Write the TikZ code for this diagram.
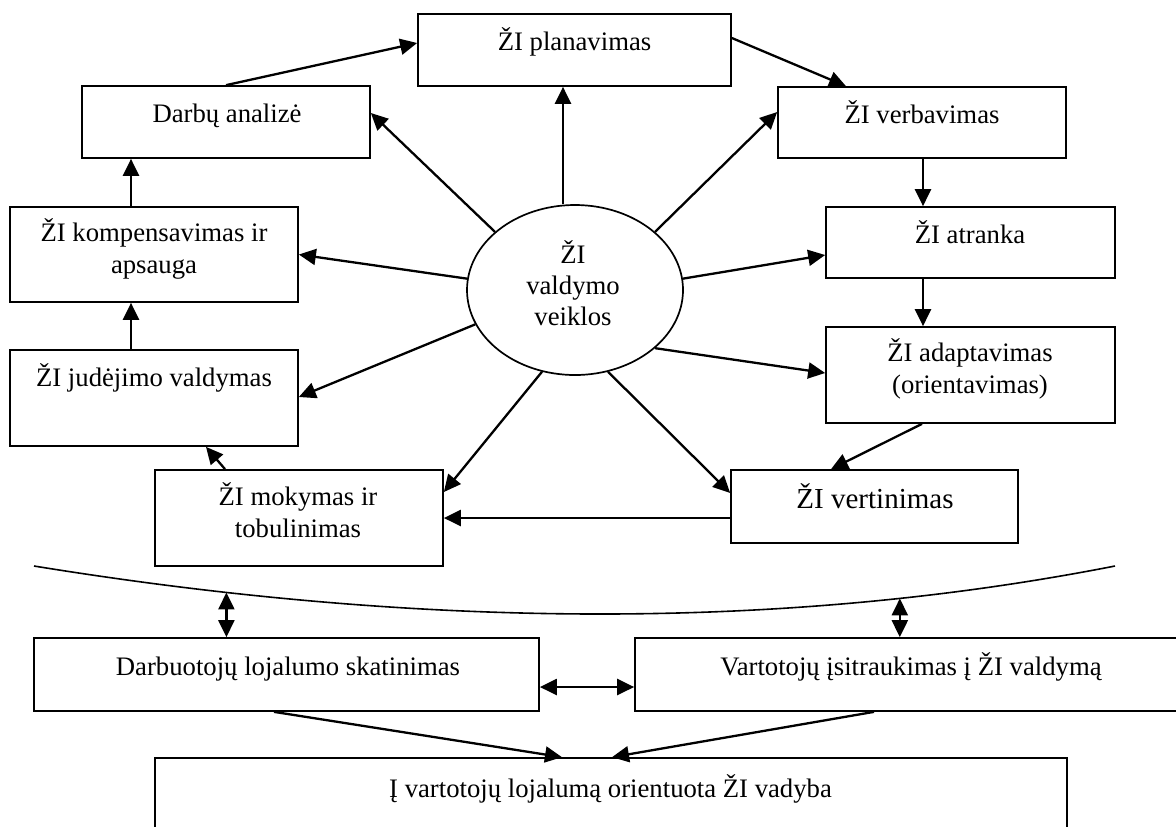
\documentclass[tikz,border=0pt]{standalone}
\usepackage{fontspec}
\setmainfont{Liberation Serif}
\usetikzlibrary{arrows.meta,shapes.geometric,calc}
\begin{document}
\begin{tikzpicture}[x=0.5pt,y=-0.5pt,
  box/.style={draw, line width=0.85pt, inner sep=0pt, rectangle},
  lbl/.style={anchor=base, inner sep=0pt, font=\fontsize{13.35}{16}\selectfont},
  biglbl/.style={anchor=base, inner sep=0pt, font=\fontsize{14.5}{17}\selectfont},
  arr/.style={line width=1.15pt, -{Triangle[length=8.5pt,width=8pt]}},
  darr/.style={line width=1.15pt, {Triangle[length=8.5pt,width=8pt]}-{Triangle[length=8.5pt,width=8pt]}}]
\useasboundingbox (0,0) rectangle (1176,826);
\clip (0,0) rectangle (1176,826);

% boxes
\node[box, minimum width=156.5pt, minimum height=36pt] (plan) at (574.5,50) {};
\node[box, minimum width=144pt, minimum height=36pt] (darb) at (226,122) {};
\node[box, minimum width=144pt, minimum height=35.5pt] (verb) at (922,122.5) {};
\node[box, minimum width=144.5pt, minimum height=35.5pt] (atr) at (970.5,242.5) {};
\node[box, minimum width=144.5pt, minimum height=48pt] (adapt) at (970.5,375) {};
\node[box, minimum width=144pt, minimum height=47.5pt] (komp) at (154,254.5) {};
\node[box, minimum width=144pt, minimum height=48pt] (jud) at (154,398) {};
\node[box, minimum width=144pt, minimum height=48pt] (mok) at (299,518) {};
\node[box, minimum width=143.5pt, minimum height=36.5pt] (vert) at (874.5,506.5) {};
\node[box, minimum width=252.5pt, minimum height=36.5pt] (darbuot) at (286.5,674.5) {};
\node[box, minimum width=282.5pt, minimum height=36.5pt] (vart) at (917.5,674.5) {};
\node[box, minimum width=456pt, minimum height=51pt] (bottom) at (611,809) {};
\node[draw, ellipse, line width=0.85pt, inner sep=0pt, minimum width=108pt, minimum height=85pt] (ell) at (575,290) {};

% labels
\node[lbl] (tplan) at (574.5,50) {ŽI planavimas};
\node[lbl] (tdarb) at (227,122) {Darbų analizė};
\node[lbl] (tverb) at (922,123) {ŽI verbavimas};
\node[lbl] (tatr) at (970,243) {ŽI atranka};
\node[lbl] (tadapt1) at (970,361) {ŽI adaptavimas};
\node[lbl] (tadapt2) at (970,393) {(orientavimas)};
\node[lbl] (tkomp1) at (154,241) {ŽI kompensavimas ir};
\node[lbl] (tkomp2) at (154,273) {apsauga};
\node[lbl] (tjud) at (154,386) {ŽI judėjimo valdymas};
\node[lbl] (tmok1) at (298,505) {ŽI mokymas ir};
\node[lbl] (tmok2) at (298,537) {tobulinimas};
\node[biglbl] (tvert) at (875,508) {ŽI vertinimas};
\node[lbl] (tdarbuot) at (288,675) {Darbuotojų lojalumo skatinimas};
\node[lbl] (tvart) at (911,675) {Vartotojų įsitraukimas į ŽI valdymą};
\node[lbl] (tbottom) at (610.5,797) {Į vartotojų lojalumą orientuota ŽI vadyba};
\node[lbl] (tell1) at (573,263) {ŽI};
\node[lbl] (tell2) at (573,294) {valdymo};
\node[lbl] (tell3) at (573,325) {veiklos};

% connectors
\draw[arr] (darb.north) -- ($(plan.west)+(0,-7)$);
\draw[arr] ($(plan.east)+(0,-12)$) -- ($(verb.north)+(-76,0)$);
\draw[arr] ($(ell.north)+(-12,0)$) -- ($(plan.south)+(-11.5,0)$);
\draw[arr] (ell.144) -- ($(darb.east)+(0,-9)$);
\draw[arr] (ell.36) -- ($(verb.west)+(0,-10.5)$);
\draw[arr] (ell.6) -- ($(atr.west)+(0,12.5)$);
\draw[arr] (ell.-36) -- ($(adapt.west)+(0,-2)$);
\draw[arr] (ell.-68) -- ($(vert.west)+(0,-13.5)$);
\draw[arr] (ell.248) -- ($(mok.east)+(0,-26)$);
\draw[arr] (ell.199) -- ($(jud.east)+(0,-1)$);
\draw[arr] (ell.174) -- (komp.east);
\draw[arr] ($(komp.north)+(-23,0)$) -- ($(darb.south)+(-95,0)$);
\draw[arr] ($(jud.north)+(-23,0)$) -- ($(komp.south)+(-23,0)$);
\draw[arr] ($(verb.south)+(1,0)$) -- ($(atr.north)+(-47.5,0)$);
\draw[arr] ($(atr.south)+(-47.5,0)$) -- ($(adapt.north)+(-47.5,0)$);
\draw[arr] ($(adapt.south)+(-48.5,0)$) -- ($(vert.north)+(-43.5,0)$);
\draw[arr] ($(vert.west)+(0,11.5)$) -- (mok.east);
\draw[arr] ($(mok.north)+(-74,0)$) -- ($(jud.south)+(52,0)$);

% curve
\coordinate (cL) at (34,566);
\coordinate (cR) at (1115,566);
\draw[line width=0.8pt] (cL) .. controls (428.3,630) and (788.7,630) .. (cR)
  coordinate[pos=0.165] (cl1) coordinate[pos=0.785] (cr1);
\draw[darr] (cl1) -- (cl1 |- darbuot.north);
\draw[darr] (cr1) -- (cr1 |- vart.north);
\draw[darr] ($(darbuot.east)+(0,12.5)$) -- ($(vart.west)+(0,12.5)$);
\draw[arr] ($(darbuot.south)+(-12.5,0)$) -- ($(bottom.north)+(-49,0)$);
\draw[arr] ($(vart.south)+(-43.5,0)$) -- ($(bottom.north)+(1,0)$);
\end{tikzpicture}
\end{document}
